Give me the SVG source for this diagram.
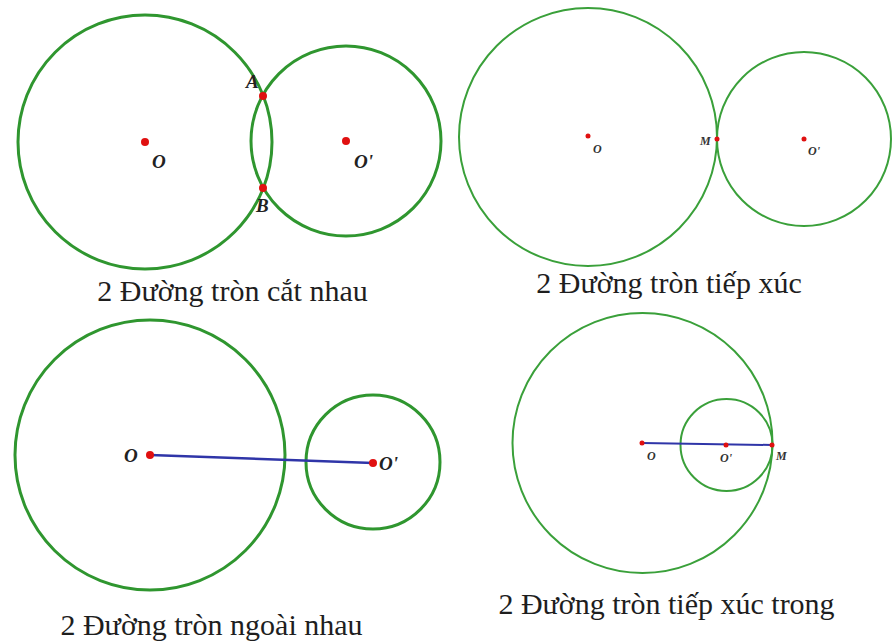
<svg xmlns="http://www.w3.org/2000/svg" width="896" height="644" viewBox="0 0 896 644">
<style>
.c1{fill:none;stroke:#2f962f;stroke-width:3}
.c2{fill:none;stroke:#3aa03a;stroke-width:2}
.seg{stroke:#2f35a8;stroke-width:2.5;fill:none}
.dot{fill:#e01010}
.lb{font-family:"Liberation Serif",serif;font-style:italic;font-weight:bold;font-size:19px;fill:#222}
.ls{font-family:"Liberation Serif",serif;font-style:italic;font-weight:bold;font-size:12px;fill:#333}
.cap{font-family:"Liberation Serif",serif;font-size:30px;fill:#1e1e1e;text-anchor:middle}
</style>
<rect width="896" height="644" fill="#ffffff"/>
<g id="panel-cat-nhau">
  <g id="p1-circle-O"><circle class="c1" cx="145" cy="142" r="127"/></g>
  <g id="p1-circle-O2"><circle class="c1" cx="346" cy="141" r="95"/></g>
  <g id="p1-points">
    <circle class="dot" cx="145" cy="142" r="4"/>
    <circle class="dot" cx="346" cy="141" r="4"/>
    <circle class="dot" cx="263" cy="96" r="4"/>
    <circle class="dot" cx="263" cy="188" r="4"/>
  </g>
  <g id="p1-labels">
    <text class="lb" x="152" y="168">O</text>
    <text class="lb" x="354" y="168">O'</text>
    <text class="lb" x="246" y="88">A</text>
    <text class="lb" x="256" y="212">B</text>
  </g>
  <text class="cap" x="232.5" y="301">2 Đường tròn cắt nhau</text>
</g>
<g id="panel-tiep-xuc">
  <g id="p2-circle-O"><circle class="c2" cx="588" cy="137" r="129"/></g>
  <g id="p2-circle-O2"><circle class="c2" cx="804" cy="139" r="87"/></g>
  <g id="p2-points">
    <circle class="dot" cx="588" cy="136" r="2.5"/>
    <circle class="dot" cx="804" cy="139" r="2.5"/>
    <circle class="dot" cx="717" cy="139" r="2.5"/>
  </g>
  <g id="p2-labels">
    <text class="ls" x="593" y="153">O</text>
    <text class="ls" x="700" y="145">M</text>
    <text class="ls" x="808" y="155">O'</text>
  </g>
  <text class="cap" x="669" y="293">2 Đường tròn tiếp xúc</text>
</g>
<g id="panel-ngoai-nhau">
  <g id="p3-circle-O"><circle class="c1" cx="150" cy="455" r="135"/></g>
  <g id="p3-circle-O2"><circle class="c1" cx="373" cy="462" r="67"/></g>
  <g id="connectors-p3"><line class="seg" x1="150" y1="455" x2="373" y2="463"/></g>
  <g id="p3-points">
    <circle class="dot" cx="150" cy="455" r="4"/>
    <circle class="dot" cx="373" cy="463" r="4"/>
  </g>
  <g id="p3-labels">
    <text class="lb" x="124" y="462">O</text>
    <text class="lb" x="379" y="470">O'</text>
  </g>
  <text class="cap" x="211.5" y="635">2 Đường tròn ngoài nhau</text>
</g>
<g id="panel-tiep-xuc-trong">
  <g id="p4-circle-O"><circle class="c2" cx="642.5" cy="443" r="130"/></g>
  <g id="p4-circle-O2"><circle class="c2" cx="726.5" cy="445" r="46"/></g>
  <g id="connectors-p4"><line class="seg" x1="642" y1="443" x2="772" y2="445" style="stroke-width:2"/></g>
  <g id="p4-points">
    <circle class="dot" cx="642" cy="443" r="2.5"/>
    <circle class="dot" cx="726" cy="445" r="2.5"/>
    <circle class="dot" cx="772" cy="445" r="2.5"/>
  </g>
  <g id="p4-labels">
    <text class="ls" x="647" y="460">O</text>
    <text class="ls" x="720" y="462">O'</text>
    <text class="ls" x="776" y="460">M</text>
  </g>
  <text class="cap" x="666.5" y="614">2 Đường tròn tiếp xúc trong</text>
</g>
</svg>
